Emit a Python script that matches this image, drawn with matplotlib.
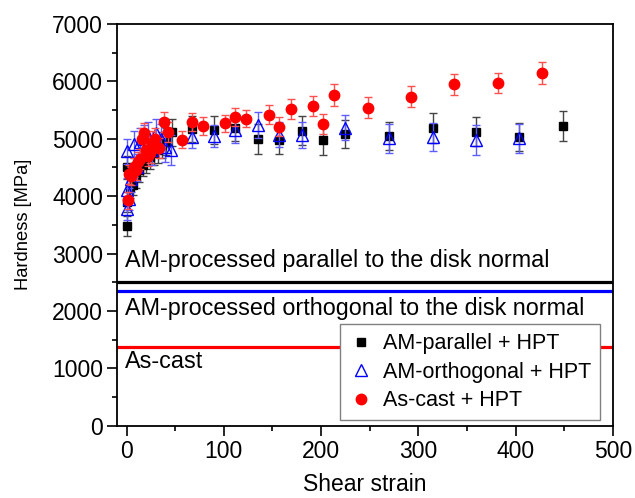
import matplotlib
matplotlib.use('Agg')
import matplotlib.pyplot as plt
from matplotlib.lines import Line2D
from matplotlib.ticker import MultipleLocator

plt.rcParams['font.family'] = ['Liberation Sans', 'DejaVu Sans']

# AM-parallel + HPT
par_x = [0, 0, 0, 4, 7, 10, 13, 17, 20, 24, 28, 32, 36, 41, 47,
         67, 90, 112, 135, 157, 180, 202, 225, 270, 315, 359, 404, 449]
par_y = [3480, 3900, 4500, 4150, 4200, 4330, 4450, 4550, 4620, 4680, 4750, 4800, 4890, 4950, 5110,
         5170, 5150, 5190, 5000, 4980, 5140, 4980, 5080, 5050, 5190, 5120, 5030, 5220]
par_err = [170, 180, 200, 180, 180, 190, 200, 200, 210, 200, 210, 220, 220, 230, 240,
           220, 240, 230, 260, 240, 250, 260, 240, 240, 260, 250, 240, 260]

# AM-orthogonal + HPT
orth_x = [0, 0, 0, 2, 5, 8, 11, 14, 18, 22, 26, 30, 35, 40, 46,
          67, 90, 112, 135, 157, 180, 225, 270, 315, 359, 404]
orth_y = [3780, 4100, 4780, 3950, 4300, 4900, 4500, 4950, 5000, 5050, 4800, 5100, 5000, 4850, 4800,
          5030, 5050, 5150, 5240, 5070, 5070, 5190, 5010, 5030, 4980, 5010]
orth_err = [200, 210, 220, 200, 220, 230, 230, 240, 240, 250, 250, 240, 250, 260, 260,
            200, 190, 220, 230, 220, 230, 220, 250, 250, 260, 250]

# As-cast + HPT
cast_x = [1, 3, 5, 8, 10, 12, 14, 16, 18, 20, 22, 24, 26, 29, 33, 38, 43,
          57, 67, 79, 101, 112, 123, 146, 157, 169, 192, 202, 213, 248, 292, 337, 382, 427]
cast_y = [3930, 4380, 4350, 4500, 4450, 4600, 4650, 5000, 5100, 4800, 4700, 4750, 4950, 5000, 4840, 5290, 5120,
          4980, 5290, 5220, 5270, 5380, 5350, 5420, 5210, 5520, 5570, 5260, 5760, 5540, 5730, 5950, 5970, 6140]
cast_err = [150, 160, 160, 170, 170, 170, 170, 180, 180, 170, 170, 170, 180, 180, 180, 180, 180,
            150, 160, 150, 150, 160, 150, 170, 160, 180, 180, 170, 190, 180, 180, 180, 180, 190]

# reference hardness of the undeformed states
ref_vals = [2500, 2350, 1375]
ref_colors = ['black', 'blue', 'red']
ref_texts = ['AM-processed parallel to the disk normal',
             'AM-processed orthogonal to the disk normal',
             'As-cast']
ref_text_y = [2880, 2040, 1120]

fig = plt.figure(figsize=(6.35, 4.98), dpi=100)
ax = fig.add_axes([0.184, 0.145, 0.781, 0.807])

for v, c in zip(ref_vals, ref_colors):
    ax.axhline(v, color=c, lw=2.3, zorder=1)
for t, ty in zip(ref_texts, ref_text_y):
    ax.text(-2, ty, t, fontsize=16.8, va='center', ha='left')

ax.errorbar(par_x, par_y, yerr=par_err, fmt='s', color='black', ms=5.5,
            ecolor='#444444', elinewidth=1, capsize=3, capthick=1, zorder=3)
ax.errorbar(orth_x, orth_y, yerr=orth_err, fmt='^', color='blue', mfc='none', mec='blue',
            ms=8, mew=1, ecolor='#5c5cff', elinewidth=1, capsize=3, capthick=1, zorder=4)
ax.errorbar(cast_x, cast_y, yerr=cast_err, fmt='o', color='red', ms=7.5,
            ecolor='#ff5050', elinewidth=1, capsize=3, capthick=1, zorder=5)

ax.set_xlim(-10, 500)
ax.set_ylim(0, 7000)
ax.xaxis.set_major_locator(MultipleLocator(100))
ax.xaxis.set_minor_locator(MultipleLocator(50))
ax.yaxis.set_major_locator(MultipleLocator(1000))
ax.yaxis.set_minor_locator(MultipleLocator(500))
ax.tick_params(which='major', direction='out', length=7, width=1.2, labelsize=16.5, pad=3)
ax.tick_params(which='minor', direction='out', length=3.5, width=1.2)
for s in ax.spines.values():
    s.set_linewidth(1.3)

ax.set_xlabel('Shear strain', fontsize=16.5)
ax.set_ylabel('Hardness [MPa]', fontsize=13.2)
ax.xaxis.set_label_coords(0.5, -0.118)
ax.yaxis.set_label_coords(-0.172, 0.5)

# legend shows markers only
handles = [Line2D([], [], ls='none', marker='s', color='black', ms=5.5),
           Line2D([], [], ls='none', marker='^', mfc='none', mec='blue', ms=8, mew=1),
           Line2D([], [], ls='none', marker='o', color='red', ms=7.5)]
labels = ['AM-parallel + HPT', 'AM-orthogonal + HPT', 'As-cast + HPT']
leg = ax.legend(handles, labels, loc='lower right', bbox_to_anchor=(0.974, 0.015), fontsize=15.5,
                fancybox=False, edgecolor='gray', framealpha=1, borderpad=0.4, borderaxespad=0,
                handletextpad=0.4, handlelength=1.2, labelspacing=0.35)
leg.get_frame().set_linewidth(1)

fig.savefig('out.png', dpi=100)
